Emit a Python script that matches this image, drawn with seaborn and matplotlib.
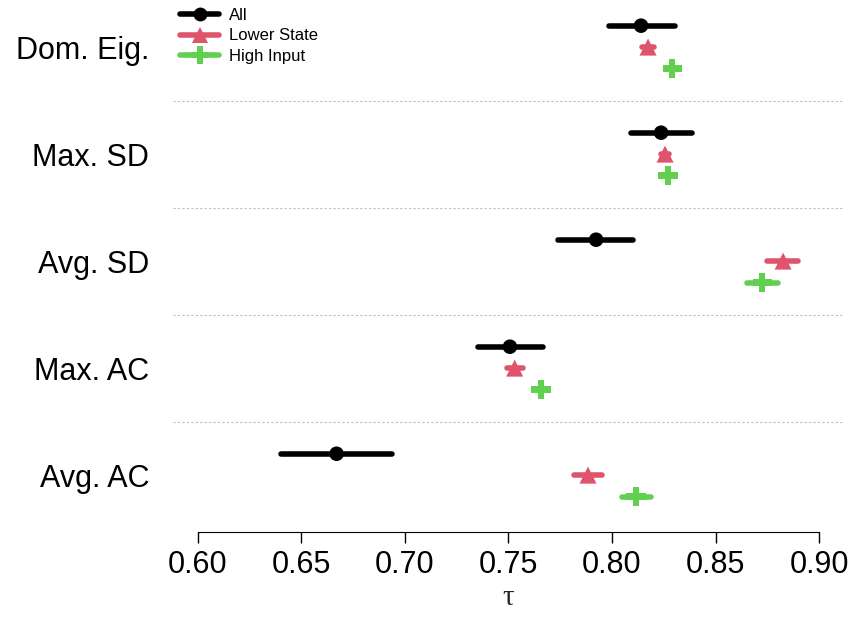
import numpy as np
import pandas as pd
import seaborn as sns
import matplotlib
matplotlib.use('Agg')
import matplotlib.pyplot as plt
from matplotlib.lines import Line2D

# metrics, top to bottom
metrics = ['Dom. Eig.', 'Max. SD', 'Avg. SD', 'Max. AC', 'Avg. AC']
series = ['All', 'Lower State', 'High Input']

# estimates and interval ends for each series, same order as metrics
all_est = [0.814, 0.8237, 0.7923, 0.7507, 0.667]
all_lo = [0.7986, 0.809, 0.774, 0.7353, 0.640]
all_hi = [0.8304, 0.8386, 0.810, 0.7667, 0.694]

lower_est = [0.8174, 0.8256, 0.8826, 0.753, 0.7884]
lower_lo = [0.8145, 0.8235, 0.875, 0.7495, 0.7816]
lower_hi = [0.8205, 0.8275, 0.890, 0.757, 0.795]

high_est = [0.829, 0.827, 0.8725, 0.7657, 0.8116]
high_lo = [0.8275, 0.8258, 0.865, 0.7625, 0.805]
high_hi = [0.8305, 0.8285, 0.880, 0.769, 0.819]

colors = ['black', '#DF536B', '#61D04F']
markers = ['o', '^', 'P']
msizes = [110, 150, 190]

rows = []
for s, est, lo, hi in zip(series, [all_est, lower_est, high_est],
                          [all_lo, lower_lo, high_lo], [all_hi, lower_hi, high_hi]):
    for i, m in enumerate(metrics):
        rows.append({'metric': m, 'group': i, 'series': s,
                     'tau': est[i], 'lo': lo[i], 'hi': hi[i]})
df = pd.DataFrame(rows)
offsets = {'All': -0.2, 'Lower State': 0.0, 'High Input': 0.2}
df['y'] = df['group'] + df['series'].map(offsets)

sns.set_style('white')
plt.rcParams['font.family'] = ['Liberation Sans', 'DejaVu Sans']
plt.rcParams['text.color'] = 'black'
plt.rcParams['xtick.color'] = 'black'
plt.rcParams['ytick.color'] = 'black'

fig = plt.figure(figsize=(8.52, 6.17), dpi=100)
ax = fig.add_axes([0.203, 0.138, 0.7876, 0.862])

# separators between metric groups
for k in range(len(metrics) - 1):
    ax.axhline(k + 0.5, color='#bdbdbd', lw=0.8, ls=(0, (2, 2)), zorder=0)

for s, c in zip(series, colors):
    d = df[df['series'] == s]
    ax.hlines(d['y'], d['lo'], d['hi'], color=c, lw=4, capstyle='round', zorder=2)

sns.scatterplot(data=df, x='tau', y='y', hue='series', style='series', size='series',
                palette=dict(zip(series, colors)), markers=dict(zip(series, markers)),
                sizes=dict(zip(series, msizes)), edgecolor='none', legend=False,
                ax=ax, zorder=3)

ax.set_xlim(0.588, 0.912)
ax.set_ylim(4.53, -0.44)
ticks = np.arange(0.60, 0.901, 0.05)
ax.set_xticks(ticks)
ax.set_xticklabels([f'{t:.2f}' for t in ticks], fontsize=22)
ax.set_yticks(range(len(metrics)))
ax.set_yticklabels(metrics, fontsize=22)
ax.tick_params(axis='y', left=False, length=0, pad=17)
ax.tick_params(axis='x', bottom=True, length=8, width=1, direction='out', pad=5)
for sp in ['top', 'left', 'right']:
    ax.spines[sp].set_visible(False)
ax.spines['bottom'].set_bounds(0.6, 0.9)
ax.spines['bottom'].set_color('black')
ax.set_xlabel('τ', fontsize=21, family=['Liberation Serif', 'DejaVu Serif'], labelpad=4)
ax.set_ylabel('')

handles = [Line2D([0], [0], color=c, lw=4, marker=m, markersize=ms,
                  solid_capstyle='round', markeredgewidth=0)
           for c, m, ms in zip(colors, markers, [10, 12, 13])]
ax.legend(handles, series, loc='upper left', bbox_to_anchor=(0.0, 1.0),
          frameon=False, fontsize=12, handlelength=2.3, labelspacing=0.35,
          borderaxespad=0.05, handletextpad=0.6)

fig.savefig('out.png', dpi=100)
